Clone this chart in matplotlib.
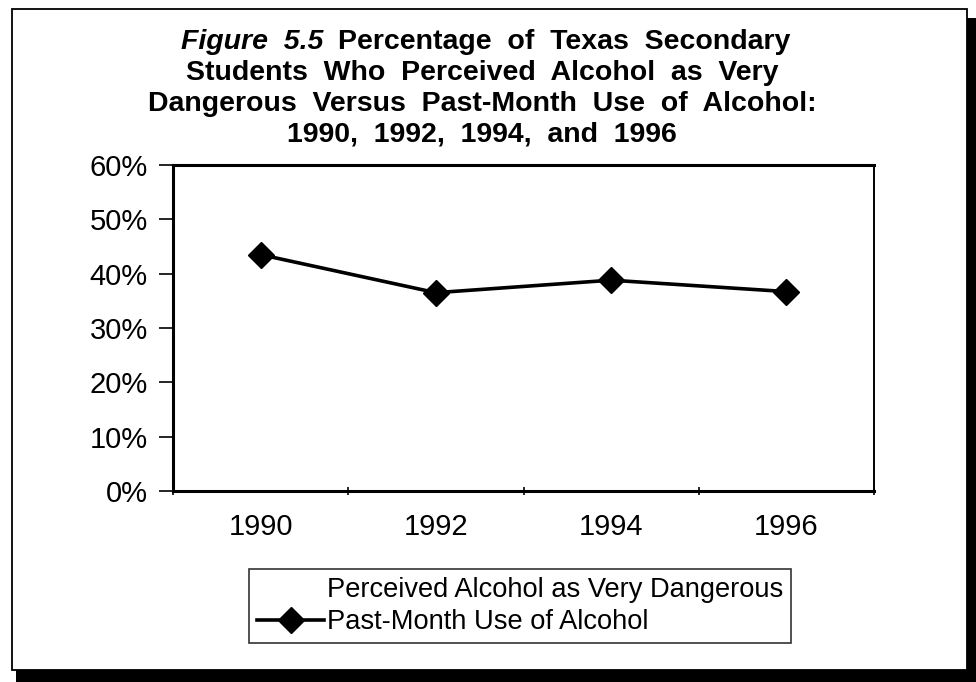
import matplotlib.pyplot as plt
from matplotlib.patches import Rectangle
from matplotlib.lines import Line2D

# --- Dados ---
anos = ['1990', '1992', '1994', '1996']
uso_ultimo_mes = [43.5, 36.5, 38.8, 36.7]
rotulo_perigoso = 'Perceived Alcohol as Very Dangerous'
rotulo_uso = 'Past-Month Use of Alcohol'
ticks_y = [0, 10, 20, 30, 40, 50, 60]

W, H = 976, 682
plt.rcParams['font.family'] = ['Liberation Sans', 'DejaVu Sans']

fig = plt.figure(figsize=(W / 100, H / 100), dpi=100)

def px(x, y):
    # pixel (topo-esquerda) -> coordenadas da figura
    return x / W, 1 - y / H

# moldura com sombra
sombra = Rectangle(px(16, 682), (976 - 16) / W, (682 - 18) / H,
                   transform=fig.transFigure, facecolor='black', edgecolor='none', zorder=0)
moldura = Rectangle(px(12, 670), (967 - 12) / W, (670 - 9) / H,
                    transform=fig.transFigure, facecolor='white', edgecolor='black',
                    linewidth=1.3, zorder=1)
fig.patches.extend([sombra, moldura])

# titulo
TAM_TIT = 20.5
cx = 482
x0, y0 = px(323, 42)
fig.text(x0, y0, 'Figure  5.5', fontsize=TAM_TIT, fontweight='bold', style='italic',
         ha='right', va='center', zorder=3)
x1, _ = px(338, 42)
fig.text(x1, y0, 'Percentage  of  Texas  Secondary', fontsize=TAM_TIT, fontweight='bold',
         ha='left', va='center', zorder=3)
linhas = ['Students  Who  Perceived  Alcohol  as  Very',
          'Dangerous  Versus  Past-Month  Use  of  Alcohol:',
          '1990,  1992,  1994,  and  1996']
for i, linha in enumerate(linhas):
    xt, yt = px(cx, 73 + 31 * i)
    fig.text(xt, yt, linha, fontsize=TAM_TIT, fontweight='bold', ha='center', va='center', zorder=3)

# eixo principal
esq, topo, dir_, base = 173, 165, 874, 491
ax = fig.add_axes([esq / W, 1 - base / H, (dir_ - esq) / W, (base - topo) / H], zorder=2)
ax.set_facecolor('none')

x = list(range(len(anos)))
ax.plot(x, uso_ultimo_mes, color='black', linewidth=2.6, marker='D', markersize=13,
        label=rotulo_uso, zorder=3)

ax.set_xlim(-0.5, len(anos) - 0.5)
ax.set_ylim(0, 60)
ax.set_yticks(ticks_y)
ax.set_yticklabels([f'{v}%' for v in ticks_y], fontsize=21)
ax.set_xticks(x)
ax.set_xticklabels(anos, fontsize=21)
ax.set_xticks([i - 0.5 for i in range(len(anos) + 1)], minor=True)
ax.tick_params(axis='x', which='major', length=0, pad=16)
ax.tick_params(axis='x', which='minor', length=6, width=1.2, direction='inout')
ax.tick_params(axis='y', length=10, width=1.2, direction='out', pad=8)
for lado in ['left', 'bottom', 'top']:
    ax.spines[lado].set_linewidth(2.2)
ax.spines['right'].set_linewidth(1.4)

# legenda
handles = [Line2D([], [], color='none', label=rotulo_perigoso),
           Line2D([], [], color='black', linewidth=2.6, marker='D', markersize=13,
                  label=rotulo_uso)]
lx, ly = px(249, 569)
leg = fig.legend(handles=handles, loc='upper left', bbox_to_anchor=(lx, ly),
                 fontsize=19.6, frameon=True, fancybox=False, shadow=False,
                 edgecolor='black', handlelength=2.45, handletextpad=0.1,
                 borderpad=0.3, labelspacing=0.22, borderaxespad=0)
leg.get_frame().set_linewidth(1.2)
leg.set_zorder(4)

fig.savefig('out.png', dpi=100, facecolor='white')
